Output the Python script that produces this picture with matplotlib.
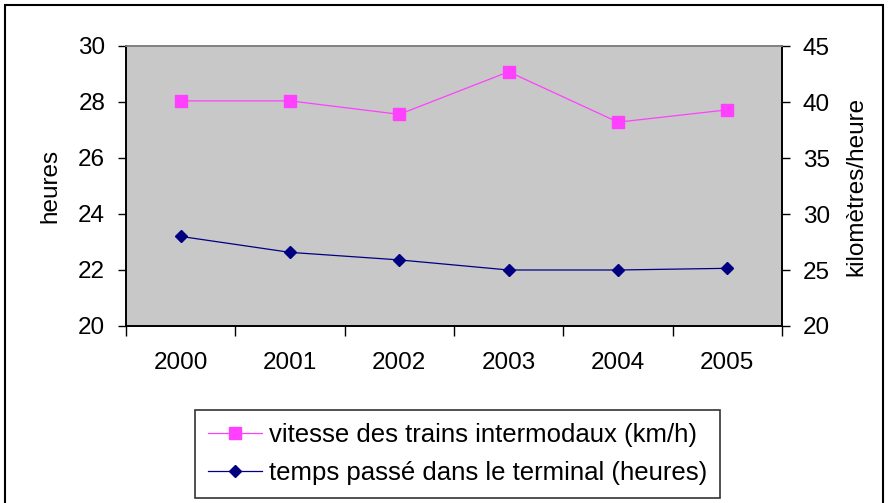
import matplotlib
matplotlib.use("Agg")
import matplotlib.pyplot as plt
from matplotlib.patches import Rectangle
from matplotlib.lines import Line2D

years = ["2000", "2001", "2002", "2003", "2004", "2005"]
vitesse = [40.1, 40.1, 38.9, 42.7, 38.2, 39.3]        # km/h, right axis
temps = [23.2, 22.63, 22.36, 22.0, 22.0, 22.06]       # heures, left axis
left_ticks = [20, 22, 24, 26, 28, 30]
right_ticks = [20, 25, 30, 35, 40, 45]

plt.rcParams['font.family'] = ['Liberation Sans', 'DejaVu Sans']
FS = 17.5
LFS = 18.5

fig = plt.figure(figsize=(8.88, 5.03), dpi=100)
fig.patch.set_facecolor("white")
fig.patches.append(Rectangle((5/888, -0.01), 878/888, 1 - 5/503 + 0.01,
                             transform=fig.transFigure, fill=False,
                             edgecolor="black", linewidth=1.5))

ax = fig.add_axes([126/888, 1 - 326/503, (782 - 126)/888, (326 - 46)/503])
ax.set_facecolor("#C8C8C8")
x = list(range(len(years)))
ax.plot(x, temps, color="#000080", linewidth=0.9, marker="D", markersize=6.5,
        markerfacecolor="#000080", markeredgecolor="#000080", zorder=3)
ax.set_xlim(-0.5, len(years) - 0.5)
ax.set_ylim(left_ticks[0], left_ticks[-1])
ax.set_yticks(left_ticks)
ax.set_yticklabels([str(t) for t in left_ticks], fontsize=FS)
ax.set_xticks([i + 0.5 for i in range(-1, len(years))], minor=False)
ax.set_xticklabels([])
ax.set_xticks(x, minor=True)
ax.set_xticklabels(years, minor=True, fontsize=FS)
ax.tick_params(axis="x", which="minor", length=0, pad=19)
ax.tick_params(axis="x", which="major", length=7, width=1, direction="out")
ax.tick_params(axis="y", length=6, width=1, direction="out", pad=9)
ax.set_ylabel("heures", fontsize=FS, labelpad=12)

ax2 = ax.twinx()
ax2.plot(x, vitesse, color="#FF40FF", linewidth=0.9, marker="s", markersize=8,
         markerfacecolor="#FF40FF", markeredgecolor="#FF40FF", zorder=3)
ax2.set_ylim(right_ticks[0], right_ticks[-1])
ax2.set_yticks(right_ticks)
ax2.set_yticklabels([str(t) for t in right_ticks], fontsize=FS)
ax2.tick_params(axis="y", length=6, width=1, direction="out", pad=9)
ax2.set_ylabel("kilomètres/heure", fontsize=FS, labelpad=11)

for a in (ax, ax2):
    for s in ("left", "right", "bottom"):
        a.spines[s].set_color("black")
        a.spines[s].set_linewidth(1.2)
    a.spines["top"].set_color("#808080")
    a.spines["top"].set_linewidth(1.2)

handles = [
    Line2D([], [], color="#FF40FF", linewidth=0.9, marker="s", markersize=8,
           markerfacecolor="#FF40FF", markeredgecolor="#FF40FF"),
    Line2D([], [], color="#000080", linewidth=0.9, marker="D", markersize=6.5,
           markerfacecolor="#000080", markeredgecolor="#000080"),
]
labels = ["vitesse des trains intermodaux (km/h)",
          "temps passé dans le terminal (heures)"]
leg = fig.legend(handles, labels, loc="upper left",
                 bbox_to_anchor=(195/888, 1 - 410/503), fontsize=LFS,
                 frameon=True, fancybox=False, edgecolor="black",
                 handlelength=2.1, handletextpad=0.28, borderpad=0.5,
                 labelspacing=0.55, borderaxespad=0)
leg.get_frame().set_linewidth(1.2)

fig.savefig("out.png", dpi=100, facecolor="white")
